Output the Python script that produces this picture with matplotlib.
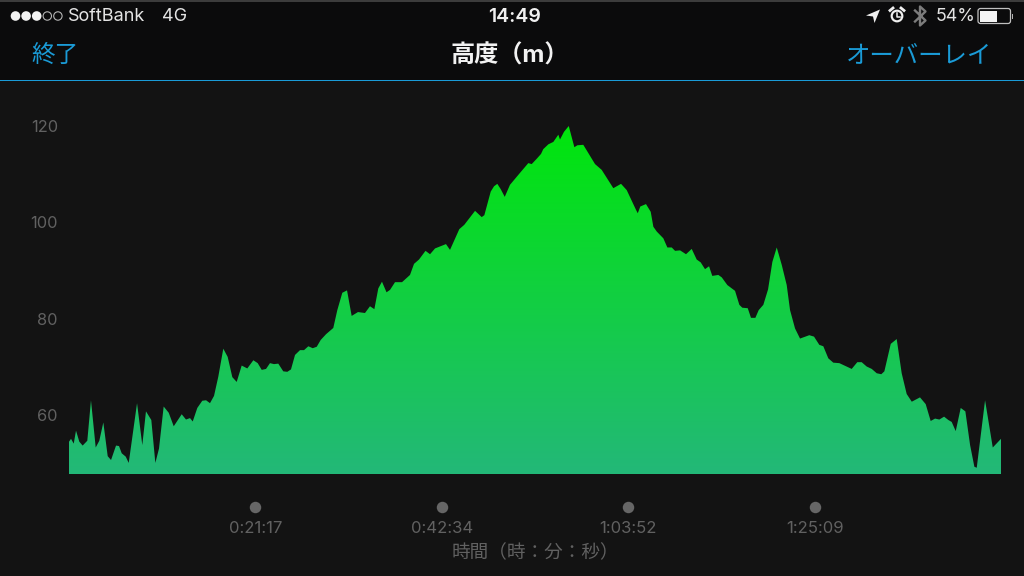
# -*- coding: utf-8 -*-

import numpy as np
import matplotlib
matplotlib.use("Agg")
import matplotlib.pyplot as plt
from matplotlib.colors import LinearSegmentedColormap
from matplotlib.patches import Circle, FancyBboxPatch, Polygon, Rectangle
from matplotlib.transforms import blended_transform_factory

plt.rcParams['font.family'] = ['Inter', 'Noto Sans CJK JP', 'DejaVu Sans']

# elapsed time in minutes / altitude in metres
minutes = [
    0.00, 0.23, 0.54, 0.80, 1.18, 1.56, 2.09, 2.51, 3.05, 3.46, 3.92, 4.42, 4.80, 5.37, 5.71, 6.02,
    6.48, 6.82, 7.77, 8.37, 8.79, 9.40, 9.86, 10.28, 10.81, 11.39, 11.96, 12.87, 13.36, 13.82, 14.13, 14.65,
    15.22, 15.65, 16.10, 16.56, 17.05, 17.62, 18.12, 18.65, 19.15, 19.72, 20.36, 21.05, 21.55, 22.01, 22.50, 22.95,
    23.41, 23.90, 24.47, 24.93, 25.35, 25.81, 26.38, 26.84, 27.33, 27.83, 28.29, 28.74, 29.35, 30.18, 30.64, 31.21,
    31.75, 32.28, 33.00, 33.80, 34.37, 34.87, 35.32, 35.74, 36.26, 36.66, 37.23, 38.03, 38.94, 39.40, 39.97, 40.71,
    41.23, 41.80, 43.05, 43.51, 44.57, 45.14, 46.37, 47.13, 47.43, 48.16, 48.54, 48.91, 49.30, 49.76, 50.36, 51.05,
    51.70, 52.45, 52.84, 53.41, 53.90, 54.16, 54.74, 55.31, 55.88, 56.07, 56.53, 57.07, 57.71, 58.05, 58.73, 60.07,
    60.83, 62.16, 63.04, 63.69, 64.75, 64.95, 65.24, 65.89, 66.43, 66.73, 67.12, 67.87, 68.33, 68.83, 69.21, 69.78,
    70.46, 71.11, 71.68, 72.14, 72.63, 73.09, 73.46, 74.15, 74.54, 75.18, 76.06, 76.55, 76.89, 77.51, 77.88, 78.38,
    78.76, 79.29, 79.83, 80.32, 80.82, 81.39, 81.96, 82.34, 82.91, 83.48, 84.54, 85.08, 85.68, 86.14, 86.71, 87.28,
    87.97, 89.38, 90.02, 90.52, 91.09, 91.67, 92.24, 92.76, 93.11, 93.84, 94.52, 95.09, 95.66, 96.24, 97.18, 97.83,
    98.40, 98.90, 99.39, 99.93, 100.42, 100.80, 101.26, 101.83, 102.36, 102.90, 103.39, 103.66, 104.61, 105.49, 106.43,
]
altitude = [
    54.5, 55.1, 54.1, 56.8, 54.5, 53.7, 54.7, 63.1, 53.3, 54.7, 58.5, 51.5, 50.7, 53.7, 53.6, 52.1,
    51.4, 50.1, 62.5, 53.8, 60.8, 59.0, 50.1, 53.1, 61.8, 60.5, 57.7, 60.2, 59.1, 59.4, 58.7, 61.5,
    63.0, 63.1, 62.5, 64.0, 68.0, 73.8, 72.1, 67.9, 66.9, 70.3, 69.7, 71.4, 70.8, 69.4, 69.6, 70.8,
    70.6, 70.7, 69.1, 69.0, 69.5, 72.5, 73.5, 73.5, 74.3, 73.9, 74.2, 75.6, 76.8, 78.1, 81.8, 85.4,
    85.9, 80.6, 81.4, 81.2, 82.6, 82.0, 86.3, 87.7, 85.5, 86.0, 87.6, 87.6, 89.1, 91.4, 92.3, 94.1,
    93.4, 94.6, 95.5, 94.3, 98.6, 99.5, 102.4, 101.1, 101.5, 106.4, 107.5, 108.0, 106.9, 105.3, 107.8, 109.3,
    110.7, 112.3, 112.1, 113.2, 114.2, 115.2, 116.2, 116.7, 118.2, 117.2, 118.8, 120.0, 115.6, 116.0, 116.1, 112.1,
    110.9, 107.1, 108.0, 106.7, 102.6, 101.9, 103.3, 103.8, 102.2, 99.1, 98.1, 96.7, 94.8, 94.8, 94.1, 94.2,
    93.4, 94.5, 92.3, 91.7, 90.3, 90.9, 88.9, 89.1, 88.6, 87.0, 85.8, 82.9, 82.3, 82.2, 80.2, 80.2,
    81.8, 82.9, 86.1, 91.8, 94.8, 91.2, 87.0, 81.8, 78.0, 75.9, 76.6, 76.3, 74.6, 74.3, 71.8, 70.9,
    70.8, 69.6, 71.0, 71.0, 70.1, 69.6, 68.7, 68.5, 69.1, 74.8, 75.8, 68.7, 64.4, 62.8, 63.7, 62.3,
    58.8, 59.3, 59.1, 59.7, 59.0, 58.6, 56.7, 61.5, 60.8, 53.8, 49.3, 49.1, 63.1, 53.3, 55.1,
]
y_ticks = [60, 80, 100, 120]
x_ticks = [21.28, 42.57, 63.87, 85.15]
x_tick_labels = ["0:21:17", "0:42:34", "1:03:52", "1:25:09"]

W, H = 1024, 576
BLUE = "#1a9bd7"
GREY = "#616161"


def add_chart(fig):
    # axes box in pixels: x 69-1001, y 126-474
    ax = fig.add_axes([69 / W, 1 - 474 / H, 932 / W, 348 / H])
    ax.set_facecolor("none")
    ax.set_xlim(minutes[0], minutes[-1])
    ax.set_ylim(47.8, 120)
    for s in ax.spines.values():
        s.set_visible(False)

    cmap = LinearSegmentedColormap.from_list("alt", ["#00e60c", "#12cf42", "#23b878"])
    grad = np.linspace(0, 1, 256).reshape(-1, 1)
    im = ax.imshow(grad, cmap=cmap, aspect="auto", origin="upper",
                   extent=[minutes[0], minutes[-1], 47.8, 120], zorder=2)
    area = ax.fill_between(minutes, 47.8, altitude, color="none", linewidth=0)
    im.set_clip_path(area.get_paths()[0], transform=ax.transData)

    ax.set_yticks(y_ticks)
    ax.set_yticklabels([str(v) for v in y_ticks], color=GREY, fontsize=11.8)
    ax.set_xticks(x_ticks)
    ax.set_xticklabels(x_tick_labels, color=GREY, fontsize=12)
    ax.tick_params(axis="y", length=0, pad=8)
    ax.tick_params(axis="x", length=0, pad=34)
    ax.set_xlabel("時間（時：分：秒）", color=GREY, fontsize=13.4, labelpad=6)

    # round markers above the time labels
    tr = blended_transform_factory(ax.transData, ax.transAxes)
    ax.scatter(x_ticks, [-33 / 348] * 4, s=68, color="#666666", linewidth=0,
               transform=tr, clip_on=False, zorder=3)


def add_chrome(fig):
    # iOS status bar and navigation bar, in pixel coordinates
    ov = fig.add_axes([0, 0, 1, 1], zorder=-1)
    ov.set_xlim(0, W)
    ov.set_ylim(H, 0)
    ov.axis("off")
    ov.add_patch(Rectangle((0, 0), W, 80, color="#0b0b0c", linewidth=0))
    ov.add_patch(Rectangle((0, 0), W, 1.5, color="#3c3c3c", linewidth=0))
    ov.add_patch(Rectangle((0, 79.6), W, 1.7, color=BLUE, linewidth=0))

    top = fig.add_axes([0, 0, 1, 1], zorder=5)
    top.set_xlim(0, W)
    top.set_ylim(H, 0)
    top.axis("off")
    top.patch.set_alpha(0)

    for i in range(5):
        cx = 15.5 + i * 10.6
        if i < 3:
            top.add_patch(Circle((cx, 16), 4.8, color="#f2f2f2", linewidth=0))
        else:
            top.add_patch(Circle((cx, 16), 4.2, fill=False, edgecolor="#b5b5b5", linewidth=0.8))

    top.text(68, 16.5, "SoftBank", color="#e4e4e4", fontsize=13, va="center", ha="left")
    top.text(162, 16.5, "4G", color="#e4e4e4", fontsize=13, va="center", ha="left")
    top.text(514.5, 16.5, "14:49", color="#f0f0f0", fontsize=14, va="center", ha="center", fontweight="semibold")
    top.text(935.5, 16.5, "54%", color="#e4e4e4", fontsize=12.9, va="center", ha="left")

    top.text(55, 55.5, "終了", color=BLUE, fontsize=17, va="center", ha="center")
    top.text(510, 55.5, "高度（m）", color="#f2f2f2", fontsize=17.4, va="center", ha="center", fontweight="bold")
    top.text(992, 55.5, "オーバーレイ", color=BLUE, fontsize=17.6, va="center", ha="right")

    # location arrow
    top.add_patch(Polygon([(866, 15.5), (880, 9.5), (874.5, 23), (873, 16.5)], color="#f0f0f0", linewidth=0))
    # alarm clock
    top.add_patch(Circle((897, 16), 6.4, color="#f0f0f0", linewidth=0))
    top.add_patch(Circle((897, 16), 4.2, color="#0b0b0c", linewidth=0))
    top.plot([897, 897, 900], [12.5, 16.5, 16.5], color="#f0f0f0", lw=1.1)
    top.plot([890, 893], [10.5, 8], color="#f0f0f0", lw=2)
    top.plot([901, 904], [8, 10.5], color="#f0f0f0", lw=2)
    # bluetooth
    top.plot([915, 925.5, 920, 920, 925.5, 915], [10.5, 20.5, 25.5, 6.5, 11.5, 21.5], color="#7c7c7c", lw=1.7)
    # battery
    top.add_patch(FancyBboxPatch((978, 8.5), 32.5, 15, boxstyle="round,pad=0,rounding_size=2.5",
                                 fill=False, edgecolor="#c0c0c0", linewidth=0.9))
    top.add_patch(Rectangle((980, 10.5), 17, 11, color="#f4f4f4", linewidth=0))
    top.add_patch(Rectangle((1011.5, 13.5), 1.6, 5, color="#b0b0b0", linewidth=0))


def main():
    fig = plt.figure(figsize=(W / 100, H / 100), dpi=100, facecolor="#131313")
    add_chrome(fig)
    add_chart(fig)
    fig.savefig("out.png", dpi=100, facecolor=fig.get_facecolor())


if __name__ == '__main__':
    main()
